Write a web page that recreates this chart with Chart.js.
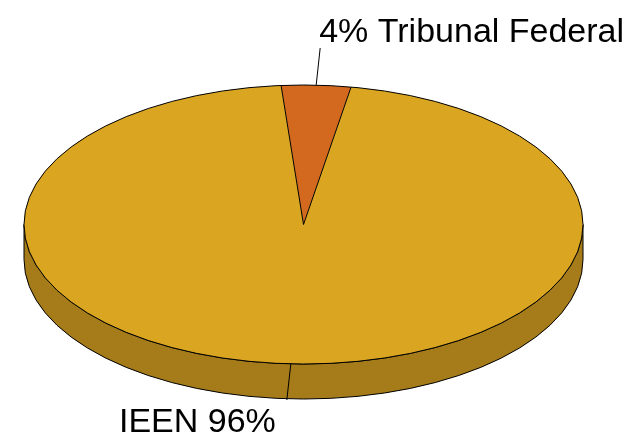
<!DOCTYPE html>
<html>
<head>
<meta charset="utf-8">
<script src="https://cdn.jsdelivr.net/npm/chart.js@4"></script>
<style>
  html, body { margin: 0; padding: 0; background: #fff; }
  #wrap { width: 635px; height: 436px; position: relative; }
</style>
</head>
<body>
<div id="wrap"><canvas id="c"></canvas></div>
<script>
// ---- data ----
const categories = ['Tribunal Federal', 'IEEN'];
const shares = [4, 96];
const topColors = ['#D2691E', '#DAA520'];
const sideColors = ['#A3541A', '#A67C1B'];

// ---- layout / style (not data) ----
const CX = 303.5, CY = 224.5, RX = 279.5, RY = 139.5, DEPTH = 35;
const ROTATION = -4.6;
const FONT = '34px "Liberation Sans", Arial, sans-serif';

function pt(a, dy) {
  return { x: CX + RX * Math.cos(a), y: CY + (dy || 0) + RY * Math.sin(a) };
}

const pie3d = {
  id: 'pie3d',
  beforeDatasetsDraw(chart) {
    const ctx = chart.ctx;
    const arcs = chart.getDatasetMeta(0).data;
    // side walls
    ctx.save();
    ctx.lineWidth = 1;
    ctx.strokeStyle = '#000';
    arcs.forEach((arc, i) => {
      const s = arc.startAngle, e = arc.endAngle;
      for (let k = -1; k <= 1; k++) {
        const lo = Math.max(s, 2 * Math.PI * k);
        const hi = Math.min(e, 2 * Math.PI * k + Math.PI);
        if (hi > lo) {
          ctx.beginPath();
          ctx.ellipse(CX, CY, RX, RY, 0, lo, hi, false);
          const p = pt(hi, DEPTH);
          ctx.lineTo(p.x, p.y);
          ctx.ellipse(CX, CY + DEPTH, RX, RY, 0, hi, lo, true);
          ctx.closePath();
          ctx.fillStyle = sideColors[i];
          ctx.fill();
          ctx.stroke();
        }
      }
    });
    ctx.restore();
    // squash the library's pie into an ellipse
    const a0 = arcs[0];
    const r = a0.outerRadius;
    ctx.save();
    ctx.translate(CX, CY);
    ctx.scale(RX / r, RY / r);
    ctx.translate(-a0.x, -a0.y);
  },
  afterDatasetsDraw(chart) {
    const ctx = chart.ctx;
    ctx.restore();
    const arcs = chart.getDatasetMeta(0).data;
    ctx.save();
    ctx.lineWidth = 1;
    ctx.strokeStyle = '#000';
    // top outline
    ctx.beginPath();
    ctx.ellipse(CX, CY, RX, RY, 0, 0, Math.PI * 2);
    ctx.stroke();
    // radial boundaries
    arcs.forEach(arc => {
      const p = pt(arc.startAngle);
      ctx.beginPath();
      ctx.moveTo(CX, CY);
      ctx.lineTo(p.x, p.y);
      ctx.stroke();
    });
    // labels with leader lines
    ctx.font = FONT;
    ctx.fillStyle = '#000';
    ctx.textBaseline = 'alphabetic';
    arcs.forEach((arc, i) => {
      const mid = (arc.startAngle + arc.endAngle) / 2;
      const top = Math.sin(mid) < 0;
      const p = pt(mid);
      const pct = shares[i] + '%';
      ctx.beginPath();
      if (top) {
        ctx.moveTo(p.x, p.y);
        ctx.lineTo(p.x + 4, 48);
        ctx.stroke();
        ctx.textAlign = 'left';
        ctx.fillText(pct + ' ' + categories[i], p.x + 3, 42);
      } else {
        ctx.moveTo(p.x, p.y);
        ctx.lineTo(p.x - 4, CY + DEPTH + RY + 1);
        ctx.stroke();
        ctx.textAlign = 'right';
        ctx.fillText(categories[i] + ' ' + pct, p.x - 15, 432);
      }
    });
    ctx.restore();
  }
};

new Chart(document.getElementById('c'), {
  type: 'pie',
  data: {
    labels: categories,
    datasets: [{
      data: shares,
      backgroundColor: topColors,
      borderWidth: 0,
      clip: false
    }]
  },
  options: {
    responsive: true,
    maintainAspectRatio: false,
    animation: false,
    events: [],
    rotation: ROTATION,
    plugins: { legend: { display: false }, tooltip: { enabled: false } }
  },
  plugins: [pie3d]
});
</script>
</body>
</html>
